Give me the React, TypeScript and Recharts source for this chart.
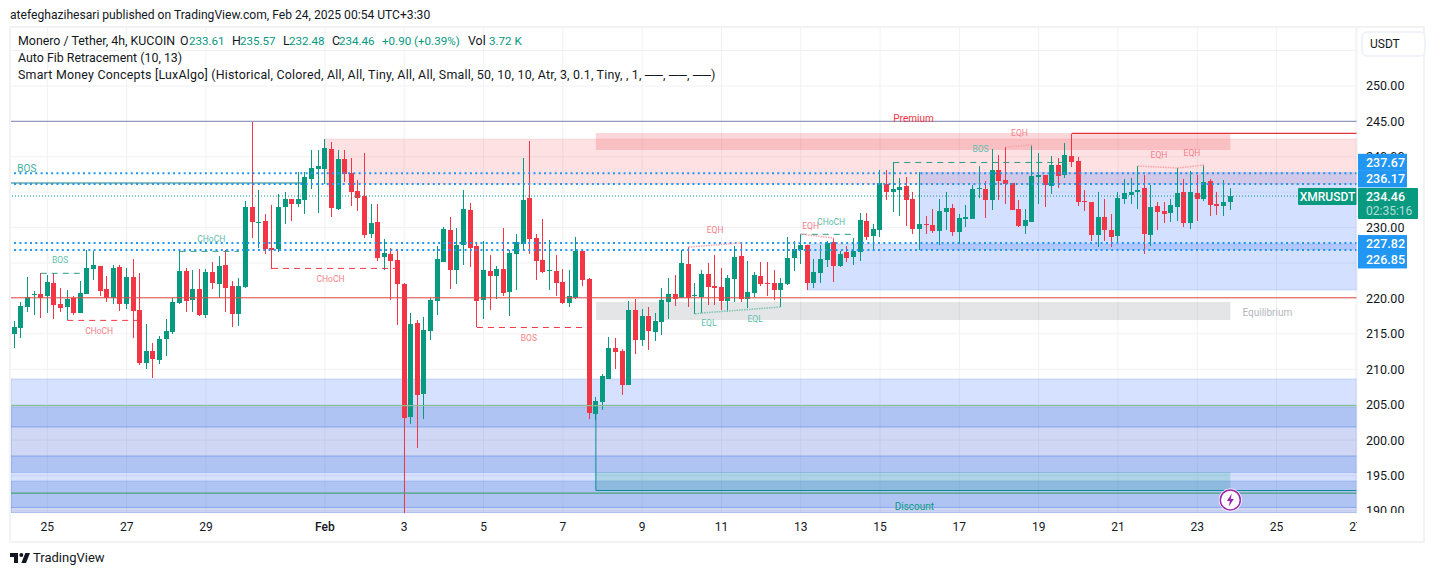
import React from "react";
import { ComposedChart, Bar, XAxis, YAxis, CartesianGrid, ReferenceLine, ReferenceArea, ReferenceDot } from "recharts";

const opens = [214.98,215.83,218.79,220.49,220.63,220.34,222.18,219.22,218.79,220.06,217.95,220.63,224.16,224.58,221.33,220.06,224.44,219.22,223.03,218.37,210.88,212.58,211.31,214.27,215.26,219.36,223.88,219.78,221.33,217.66,223.73,222.04,224.73,221.76,217.80,221.62,232.91,230.65,230.93,227.12,226.98,232.91,234.04,233.34,233.90,236.87,238.28,238.28,241.10,232.63,239.69,237.71,235.17,234.46,229.10,230.79,225.85,226.27,225.43,222.04,203.26,216.53,206.51,215.40,219.64,225.15,229.66,224.02,227.55,232.49,227.40,219.78,223.88,223.17,224.16,220.91,226.27,227.69,234.18,228.53,225.43,223.88,223.88,222.32,219.36,220.06,226.70,222.75,203.68,205.38,208.63,213.00,212.58,207.78,218.37,214.13,217.52,215.26,216.67,219.50,220.63,220.06,224.86,220.34,220.20,223.45,221.76,221.62,219.64,222.75,225.99,219.92,220.77,223.17,222.18,222.18,221.19,222.04,225.71,226.84,227.55,222.18,223.59,225.43,227.97,224.58,226.56,225.85,226.56,230.93,228.82,229.66,236.16,235.03,235.31,235.88,234.04,229.80,230.51,230.37,229.52,232.21,232.77,229.38,231.22,231.22,235.45,235.45,233.90,238.14,236.72,236.30,232.63,230.23,230.79,237.15,237.43,235.88,238.84,237.43,240.11,239.41,233.76,233.62,228.96,231.50,229.66,228.82,234.04,234.61,235.03,235.59,228.96,233.05,232.35,232.06,232.91,235.03,230.65,234.89,234.04,236.58,233.34,233.05,233.61];
const highs = [216.81,219.50,223.03,221.05,223.59,223.31,223.59,221.47,221.19,220.34,222.46,226.84,226.70,224.58,223.17,224.73,224.73,224.30,225.57,223.59,216.39,213.71,214.70,217.10,220.06,226.70,224.30,224.02,224.16,224.16,225.15,225.99,226.84,222.46,222.89,233.76,245.05,235.31,231.92,233.19,234.75,235.03,234.04,237.85,237.85,240.96,240.96,242.51,242.09,240.96,240.96,239.83,236.72,240.54,233.34,233.34,228.39,227.12,226.98,222.18,217.95,216.96,217.38,220.06,227.40,230.09,231.50,229.95,235.31,233.48,227.69,228.11,226.13,224.58,229.95,226.84,229.10,239.83,242.23,229.10,231.22,228.25,226.13,224.16,224.02,228.67,226.98,222.89,206.08,209.33,214.56,214.41,212.86,219.64,219.92,218.51,218.79,217.95,221.47,222.89,223.31,226.84,227.26,222.18,224.02,225.01,226.13,224.30,223.31,227.40,227.83,225.29,223.73,225.15,225.15,224.02,222.89,228.67,228.11,229.10,227.55,225.57,227.55,228.11,228.53,226.70,227.40,228.53,232.06,232.06,230.51,238.14,238.14,239.27,237.01,237.15,235.03,237.85,231.64,232.63,234.04,235.03,233.34,231.92,233.19,236.02,238.70,236.58,241.10,240.25,241.38,236.30,233.90,232.63,241.67,240.54,237.43,240.11,239.83,241.95,243.22,239.97,235.31,233.62,235.03,234.04,231.92,235.03,236.87,237.01,238.70,237.43,236.02,233.62,233.62,234.04,238.42,236.87,237.99,237.43,238.84,236.87,235.03,236.72,235.57];
const lows = [213.00,214.41,218.09,217.66,217.24,217.95,217.10,218.09,216.96,217.66,217.95,220.63,222.60,220.34,219.50,219.22,218.23,218.51,214.41,210.60,210.04,208.77,210.74,211.87,214.98,219.22,218.09,218.09,217.52,217.24,221.33,220.06,218.09,215.97,216.11,221.47,228.53,227.12,226.27,224.16,226.56,230.51,230.93,232.91,231.92,235.45,232.06,236.16,231.50,232.49,236.44,233.05,232.35,228.53,228.53,225.29,224.02,219.78,216.25,189.70,202.27,198.88,202.98,214.13,217.66,225.15,221.33,222.04,224.73,224.44,215.97,217.10,218.37,219.92,220.34,217.52,221.19,226.84,226.27,222.60,223.59,221.19,220.34,219.22,218.79,219.92,221.76,202.98,202.84,204.25,208.63,210.04,206.37,207.78,212.15,213.29,212.72,213.99,214.84,217.10,218.93,220.06,218.79,217.80,217.95,219.07,219.07,218.37,218.09,219.50,219.50,218.65,220.20,221.76,220.34,219.78,218.79,221.90,223.88,224.86,221.19,221.47,222.18,224.44,222.32,224.44,225.15,224.73,225.29,228.25,226.98,228.67,233.90,232.21,231.64,230.23,229.10,226.84,229.10,229.24,227.55,229.66,228.82,227.69,230.09,231.22,234.18,231.36,232.49,233.90,233.34,232.49,230.09,229.10,230.79,233.34,232.91,234.75,235.59,237.01,238.56,233.05,232.35,228.11,227.26,228.11,227.26,227.83,233.34,233.34,232.63,226.27,227.40,229.66,230.65,230.79,230.93,230.09,229.80,230.93,233.76,231.64,231.78,231.64,232.48];
const closes = [215.97,218.93,220.20,220.63,220.06,222.32,219.07,218.65,219.92,217.95,220.77,224.30,224.73,221.05,220.06,224.30,219.22,223.03,218.23,210.88,212.58,211.45,214.27,215.40,219.50,223.88,219.64,221.33,217.66,223.73,222.18,224.58,221.47,217.80,221.76,232.91,230.79,230.79,226.98,226.84,232.91,234.04,233.34,234.04,237.15,238.42,238.70,241.24,232.77,239.69,237.57,235.03,234.18,228.96,230.65,225.71,226.42,225.29,222.04,203.12,216.39,206.37,215.54,219.78,225.57,229.80,224.02,227.55,232.63,227.12,219.64,224.02,223.17,224.16,220.77,226.42,227.97,233.90,228.39,225.29,223.73,224.02,222.18,219.36,220.34,226.70,222.60,203.82,205.52,209.05,213.00,212.44,207.78,218.37,214.13,217.52,215.40,216.81,219.78,220.63,219.92,225.01,220.06,220.49,223.45,221.62,221.47,219.64,222.89,225.85,219.92,220.91,223.31,222.04,222.04,221.19,222.18,225.71,226.98,227.55,222.18,223.73,225.57,227.83,224.58,226.27,225.71,226.70,231.08,228.67,229.80,236.30,235.03,235.45,235.74,233.90,229.80,230.51,230.37,229.52,232.35,232.77,229.38,231.36,231.50,235.45,235.59,233.90,238.14,236.58,236.16,232.49,230.23,231.08,237.29,237.43,236.02,238.84,237.29,240.25,239.27,233.62,233.62,228.96,231.50,229.66,228.67,234.18,234.89,235.03,235.31,229.10,232.91,232.21,231.92,233.19,234.89,230.65,235.03,234.04,236.44,233.19,233.05,233.62,234.46];

const priceTicks = [190,195,200,205,210,215,220,225,230,235,240,245,250,255];
const coveredPriceLabels = [225, 235, 255];
const dateTickIndex = [5,17,29,47,59,71,83,95,107,119,131,143,155,167,179,191,203];
const dateTickLabels = ["25","27","29","Feb","3","5","7","9","11","13","15","17","19","21","23","25","27"];

const fullLines = [
  { y: 245.0, color: "#9598bd" },
  { y: 220.1, color: "#e84a4a" },
  { y: 204.85, color: "#86c08e" },
  { y: 192.5, color: "#4aa07a" },
];
const dottedBlue = [237.67, 236.17, 227.82, 226.85];
const tagText = ["237.67", "236.17", "227.82", "226.85"];
const tagShift = [-11, -5, 0.5, 10];

const lastPrice = 234.46;
const countdown = "02:35:16";
const symbol = "XMRUSDT";

const discountBands = [
  { top: 208.63, bottom: 189.7, fill: "#2f6bff", op: 0.2 },
  { top: 204.67, bottom: 201.85, fill: "#1e50c8", op: 0.2 },
  { top: 201.85, bottom: 197.75, fill: "#8c6775", op: 0.08 },
  { top: 197.75, bottom: 195.42, fill: "#1e50c8", op: 0.2 },
  { top: 194.22, bottom: 190.48, fill: "#1e50c8", op: 0.2 },
  { top: 190.48, bottom: 189.7, fill: "#8c6775", op: 0.08 },
];

const segmentsDashed = [
  { a: 4, b: 10, y: 223.55, color: "#2a9d86" },
  { a: 8, b: 19, y: 216.9, color: "#f23645" },
  { a: 25, b: 34, y: 226.65, color: "#2a9d86" },
  { a: 39, b: 58, y: 224.24, color: "#f23645" },
  { a: 70, b: 87, y: 215.9, color: "#f23645" },
  { a: 133, b: 159, y: 239.2, color: "#2a9d86" },
  { a: 119, b: 127, y: 229.05, color: "#2a9d86" },
];
const eqSegments = [
  { a: 102, pa: 227.26, b: 110, pb: 227.83, color: "#f8a5ad" },
  { a: 119, pa: 229.1, b: 124, pb: 228.53, color: "#f8a5ad" },
  { a: 150, pa: 241.38, b: 154, pb: 241.67, color: "#f8a5ad" },
  { a: 170, pa: 238.7, b: 176, pb: 238.42, color: "#f8a5ad" },
  { a: 176, pa: 238.42, b: 180, pb: 238.84, color: "#f8a5ad" },
  { a: 103, pa: 217.8, b: 104, pb: 217.95, color: "#7fc4b6" },
  { a: 104, pa: 217.95, b: 116, pb: 218.79, color: "#7fc4b6" },
];
const notes = [
  { t: "BOS", x: 1.9, y: 238.42, c: "#3fae98", s: 10 },
  { t: "BOS", x: 6.93, y: 225.43, c: "#5cc0ac", s: 8.5 },
  { t: "CHoCH", x: 29.8, y: 228.39, c: "#5cc0ac", s: 8.5 },
  { t: "CHoCH", x: 12.84, y: 215.4, c: "#f77f88", s: 8.5 },
  { t: "CHoCH", x: 47.85, y: 222.75, c: "#f77f88", s: 8.5 },
  { t: "BOS", x: 77.86, y: 214.41, c: "#f77f88", s: 8.5 },
  { t: "EQH", x: 106.05, y: 229.66, c: "#f77f88", s: 8.5 },
  { t: "EQH", x: 120.5, y: 230.23, c: "#f77f88", s: 8.5 },
  { t: "CHoCH", x: 123.6, y: 230.86, c: "#5cc0ac", s: 8.5 },
  { t: "EQL", x: 105.1, y: 216.53, c: "#5cc0ac", s: 8.5 },
  { t: "EQL", x: 112.1, y: 217.1, c: "#5cc0ac", s: 8.5 },
  { t: "BOS", x: 146.2, y: 241.1, c: "#5cc0ac", s: 8.5 },
  { t: "EQH", x: 152.1, y: 243.43, c: "#f77f88", s: 8.5 },
  { t: "EQH", x: 173.2, y: 240.25, c: "#f77f88", s: 8.5 },
  { t: "EQH", x: 178.2, y: 240.61, c: "#f77f88", s: 8.5 },
  { t: "Premium", x: 136.06, y: 245.48, c: "#f23645", s: 10 },
  { t: "Discount", x: 136.2, y: 190.69, c: "#089981", s: 10 },
  { t: "Equilibrium", x: 189.6, y: 218.09, c: "#b2b5be", s: 10 },
];

const ohlcParts = [
  { t: "O", left: 180, up: false },
  { t: "233.61", left: 189, up: true },
  { t: "H", left: 232, up: false },
  { t: "235.57", left: 240, up: true },
  { t: "L", left: 283, up: false },
  { t: "232.48", left: 289, up: true },
  { t: "C", left: 332, up: false },
  { t: "234.46", left: 339, up: true },
  { t: "+0.90 (+0.39%)", left: 382, up: true },
  { t: "Vol", left: 468, up: false },
  { t: "3.72 K", left: 489, up: true },
];

const UP = "#089981";
const DOWN = "#f23645";
const FONT = "Roboto, 'Noto Sans', sans-serif";
const INK = "#131722";
const X_MAX = 203.17;

const table = opens.map((o, i) => ({
  i,
  o,
  c: closes[i],
  h: highs[i],
  l: lows[i],
  range: [lows[i], highs[i]],
}));

function Candle(props: any) {
  const { x, y, width, height, payload } = props;
  const top = Math.min(y, y + height);
  const span = Math.abs(height);
  const perUnit = span / (payload.h - payload.l);
  const col = payload.c >= payload.o ? UP : DOWN;
  const yO = top + (payload.h - payload.o) * perUnit;
  const yC = top + (payload.h - payload.c) * perUnit;
  const bodyTop = Math.round(Math.min(yO, yC));
  const bodyH = Math.max(1, Math.round(Math.abs(yO - yC)));
  const cx = Math.round(x + width / 2 - 0.8);
  return (
    <g>
      <rect x={cx} y={top} width={1} height={span} fill={col} />
      <rect x={cx - 2} y={bodyTop} width={5} height={bodyH} fill={col} />
    </g>
  );
}

function PriceTick(props: any) {
  const { y, payload } = props;
  if (coveredPriceLabels.includes(payload.value)) return null;
  return (
    <text x={1366} y={y} dy={4.5} fontSize={12.5} fontFamily={FONT} fill={INK}
      clipPath={payload.value === 240 ? "url(#tagClip)" : "url(#bottomClip)"}>
      {payload.value.toFixed(2)}
    </text>
  );
}

function DateTick(props: any) {
  const { x, y, payload } = props;
  const k = dateTickIndex.indexOf(payload.value);
  const label = dateTickLabels[k];
  return (
    <text x={x} y={y} dy={10} textAnchor="middle" fontSize={12} fontFamily={FONT} fill={INK}
      fontWeight={label === "Feb" ? 500 : 400} clipPath="url(#rightClip)">
      {label}
    </text>
  );
}

function blueTag(text: string, shift: number) {
  return (p: any) => {
    const cy = p.viewBox.y + shift;
    return (
      <g>
        <rect x={1358} y={cy - 8.5} width={49} height={17} fill="#2196f3" />
        <text x={1366} y={cy + 4.5} fontSize={12.5} fontFamily={FONT} fontWeight={500} fill="#fff">{text}</text>
      </g>
    );
  };
}

function lastTag(p: any) {
  const top = p.viewBox.y - 8;
  return (
    <g>
      <rect x={1298} y={top} width={59} height={17} rx={1} fill={UP} />
      <text x={1327.5} y={top + 12.5} textAnchor="middle" fontSize={12} fontWeight={500} fontFamily={FONT} fill="#fff">{symbol}</text>
      <rect x={1358} y={top} width={60} height={31} rx={1} fill={UP} />
      <text x={1366} y={top + 12.5} fontSize={12.5} fontWeight={500} fontFamily={FONT} fill="#fff">{lastPrice.toFixed(2)}</text>
      <text x={1366} y={top + 27} fontSize={12} fontFamily={FONT} fill="#fff" fillOpacity={0.7}>{countdown}</text>
    </g>
  );
}

function Flash(p: any) {
  const { cx, cy } = p;
  return (
    <g>
      <circle cx={cx} cy={cy} r={11.5} fill="#fff" />
      <circle cx={cx} cy={cy} r={10} fill="#fff" stroke="#9c27b0" strokeWidth={1.5} />
      <path d={`M${cx + 1.5} ${cy - 6.5} L${cx - 3.5} ${cy + 1} L${cx - 0.5} ${cy + 1} L${cx - 1.5} ${cy + 6.5} L${cx + 3.5} ${cy - 1} L${cx + 0.5} ${cy - 1} Z`} fill="#9c27b0" />
    </g>
  );
}

const headStyle: React.CSSProperties = { position: "absolute", left: 18, fontFamily: FONT, fontSize: 12.4, color: INK, whiteSpace: "nowrap", lineHeight: "16px" };

export default function App() {
  return (
    <div style={{ position: "absolute", left: 0, top: 0, width: 1433, height: 576, background: "#fff", overflow: "hidden" }}>
      <div style={{ position: "absolute", left: 9, top: 26, width: 1412, height: 513, border: "2px solid #f3f3f3" }} />
      <ComposedChart
        width={1433}
        height={576}
        data={table}
        margin={{ top: 28, left: 11, right: 13, bottom: 35 }}
        barCategoryGap={0}
        style={{ position: "absolute", left: 0, top: 0 }}
      >
        <defs>
          <clipPath id="rightClip"><rect x={0} y={0} width={1357} height={576} /></clipPath>
          <clipPath id="bottomClip"><rect x={0} y={0} width={1433} height={513} /></clipPath>
          <clipPath id="tagClip"><rect x={0} y={0} width={1433} height={154} /></clipPath>
        </defs>
        <CartesianGrid stroke="#f0f1f4" strokeWidth={1} verticalValues={dateTickIndex} horizontalValues={priceTicks} />
        <XAxis
          dataKey="i"
          type="number"
          domain={[-0.5, X_MAX]}
          ticks={dateTickIndex}
          interval={0}
          allowDataOverflow
          height={28}
          axisLine={false}
          tickLine={false}
          tick={<DateTick />}
        />
        <YAxis
          orientation="right"
          type="number"
          domain={[189.7, 258.19]}
          ticks={priceTicks}
          interval={0}
          allowDataOverflow
          width={63}
          axisLine={{ stroke: "#f0f3fa" }}
          tickLine={false}
          tick={<PriceTick />}
        />

        {discountBands.map((b, k) => (
          <ReferenceArea key={`d${k}`} y1={b.bottom} y2={b.top} fill={b.fill} fillOpacity={b.op} stroke="#4f7fe6" strokeOpacity={0.25} ifOverflow="hidden" />
        ))}

        <ReferenceArea x1={47} y1={236.16} y2={242.51} fill={DOWN} fillOpacity={0.15} stroke={DOWN} strokeOpacity={0.1} />
        <ReferenceArea x1={88} x2={184} y1={240.96} y2={243.36} fill={DOWN} fillOpacity={0.2} stroke="none" />
        <ReferenceArea x1={137} y1={226.84} y2={237.85} fill="#2962ff" fillOpacity={0.2} stroke="none" />
        <ReferenceArea x1={120} y1={221.19} y2={227.7} fill="#2962ff" fillOpacity={0.2} stroke="#2962ff" strokeOpacity={0.15} />
        <ReferenceArea x1={88} x2={184} y1={216.96} y2={219.5} fill="#787b86" fillOpacity={0.2} stroke="none" />
        <ReferenceArea x1={88} x2={184} y1={192.88} y2={195.45} fill={UP} fillOpacity={0.2} stroke="none" />

        {fullLines.map((l, k) => (
          <ReferenceLine key={`f${k}`} y={l.y} stroke={l.color} strokeWidth={1.2} />
        ))}

        <ReferenceLine segment={[{ x: -0.5, y: 236.3 }, { x: 44, y: 236.3 }]} stroke="#1f7f78" strokeWidth={1.2} />
        <ReferenceLine segment={[{ x: 88, y: 192.88 }, { x: X_MAX, y: 192.88 }]} stroke="#0a8c96" strokeWidth={1.2} />
        <ReferenceLine segment={[{ x: 88, y: 203.68 }, { x: 88, y: 192.88 }]} stroke="#0a8c96" strokeWidth={1} />
        <ReferenceLine segment={[{ x: 160, y: 243.3 }, { x: X_MAX, y: 243.3 }]} stroke="#e2333d" strokeWidth={1.2} />

        {dottedBlue.map((p, k) => (
          <ReferenceLine key={`b${k}`} y={p} stroke="#2196f3" strokeWidth={2} strokeDasharray="2 3.3"
            label={{ content: blueTag(tagText[k], tagShift[k]) }} />
        ))}
        <ReferenceLine y={lastPrice} stroke={UP} strokeWidth={1} strokeDasharray="1 2" label={{ content: lastTag }} />

        {segmentsDashed.map((s, k) => (
          <ReferenceLine key={`s${k}`} segment={[{ x: s.a, y: s.y }, { x: s.b, y: s.y }]} stroke={s.color} strokeWidth={1} strokeDasharray="6 5" />
        ))}
        {eqSegments.map((s, k) => (
          <ReferenceLine key={`e${k}`} segment={[{ x: s.a, y: s.pa }, { x: s.b, y: s.pb }]} stroke={s.color} strokeWidth={1.5} strokeDasharray="1.5 1" />
        ))}

        <Bar dataKey="range" barSize={5} shape={<Candle />} isAnimationActive={false} />

        {notes.map((n, k) => (
          <ReferenceDot key={`n${k}`} x={n.x} y={n.y} r={0} fill="none" stroke="none"
            label={{ value: n.t, position: "center", fill: n.c, fontSize: n.s, fontFamily: FONT }} />
        ))}
        <ReferenceDot x={184} y={191.54} r={10} shape={Flash} />
      </ComposedChart>

      <div style={{ position: "absolute", left: 1361, top: 31, width: 54, height: 22, border: "2px solid #f0f3fa", borderRadius: 6, background: "#fff", fontFamily: FONT, fontSize: 12, color: INK, lineHeight: "22px", paddingLeft: 7, boxSizing: "content-box" }}>USDT</div>

      <div style={{ position: "absolute", left: 10, top: 7, fontFamily: FONT, fontSize: 12.1, color: INK, whiteSpace: "nowrap", lineHeight: "16px" }}>
        atefeghazihesari published on TradingView.com, Feb 24, 2025 00:54 UTC+3:30
      </div>
      <div style={{ ...headStyle, top: 33 }}>Monero / Tether, 4h, KUCOIN</div>
      {ohlcParts.map((p, k) => (
        <div key={k} style={{ ...headStyle, top: 33, left: p.left, color: p.up ? UP : INK, fontSize: p.up ? 11.6 : 12.4 }}>{p.t}</div>
      ))}
      <div style={{ ...headStyle, top: 50 }}>Auto Fib Retracement (10, 13)</div>
      <div style={{ ...headStyle, top: 67, letterSpacing: 0.22 }}>
        {"Smart Money Concepts [LuxAlgo] (Historical, Colored, All, All, Tiny, All, All, Small, 50, 10, 10, Atr, 3, 0.1, Tiny, , 1, ──, ──, ──)"}
      </div>

      <svg style={{ position: "absolute", left: 10, top: 553 }} width={20} height={10} viewBox="2 6 30 15">
        <path d="M14 6H2v6h6v9h6V6Zm12 15h-7l6-15h7l-6 15Zm-7-9a3 3 0 1 0 0-6 3 3 0 0 0 0 6Z" fill={INK} />
      </svg>
      <div style={{ position: "absolute", left: 33, top: 550, fontFamily: FONT, fontSize: 13, color: INK, lineHeight: "16px" }}>TradingView</div>
    </div>
  );
}
